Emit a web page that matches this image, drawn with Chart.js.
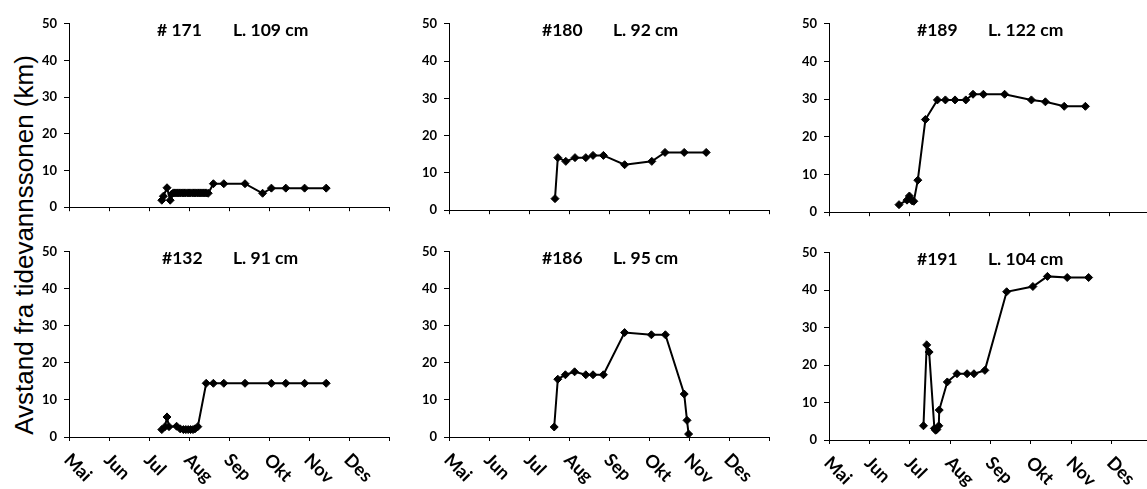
<!DOCTYPE html>
<html>
<head>
<meta charset="utf-8">
<script src="https://cdn.jsdelivr.net/npm/chart.js@4.4.1/dist/chart.umd.min.js"></script>
<style>
  html, body { margin: 0; padding: 0; background: #fff; width: 1147px; height: 489px; overflow: hidden; position: relative; }
  canvas { position: absolute; }
  #ytitle {
    position: absolute; left: 23.5px; top: 245px;
    transform: translate(-50%, -50%) rotate(-90deg);
    font: 26px "Liberation Sans", Arial, sans-serif;
    line-height: 1; white-space: nowrap; color: #000;
  }
</style>
</head>
<body>
<div id="ytitle">Avstand fra tidevannssonen (km)</div>
<script>
// Month axis: x values are months counted from 1 May (0 = 1 May, 1 = 1 Jun, ...)
const months = ['Mai', 'Jun', 'Jul', 'Aug', 'Sep', 'Okt', 'Nov', 'Des'];
const yTicks = [0, 10, 20, 30, 40, 50];

// Fish #171
const id171 = '# 171', len171 = 'L. 109 cm';
const t171 = [2.32, 2.36, 2.45, 2.53, 2.57, 2.61, 2.65, 2.70, 2.74, 2.78, 2.83, 2.87, 2.91, 2.96, 3.00,
              3.04, 3.09, 3.13, 3.17, 3.22, 3.26, 3.30, 3.35, 3.39, 3.43, 3.48, 3.61, 3.87, 4.40, 4.84,
              5.06, 5.42, 5.89, 6.43];
const km171 = [1.9, 3.0, 5.3, 1.9, 3.6, 3.9, 3.9, 3.9, 3.9, 3.9, 3.9, 3.9, 3.9, 3.9, 3.9,
               3.9, 3.9, 3.9, 3.9, 3.9, 3.9, 3.9, 3.9, 3.9, 3.9, 3.8, 6.4, 6.4, 6.4, 3.8,
               5.2, 5.2, 5.2, 5.2];

// Fish #180
const id180 = '#180', len180 = 'L. 92 cm';
const t180 = [2.65, 2.72, 2.92, 3.15, 3.42, 3.60, 3.86, 4.39, 5.07, 5.40, 5.88, 6.43];
const km180 = [3.1, 14.1, 13.1, 14.1, 14.1, 14.7, 14.7, 12.2, 13.1, 15.5, 15.5, 15.5];

// Fish #189
const id189 = '#189', len189 = 'L. 122 cm';
const t189 = [1.75, 1.95, 2.01, 2.08, 2.12, 2.22, 2.41, 2.71, 2.91, 3.15, 3.42, 3.60, 3.86, 4.39,
              5.06, 5.41, 5.88, 6.41];
const km189 = [2.0, 3.2, 4.3, 3.0, 2.9, 8.5, 24.6, 29.8, 29.8, 29.8, 29.8, 31.3, 31.3, 31.3,
               29.8, 29.3, 28.1, 28.1];

// Fish #132
const id132 = '#132', len132 = 'L. 91 cm';
const t132 = [2.32, 2.40, 2.45, 2.50, 2.69, 2.78, 2.86, 2.92, 2.98, 3.04, 3.10, 3.15, 3.22, 3.43,
              3.61, 3.87, 4.40, 5.06, 5.42, 5.89, 6.43];
const km132 = [2.0, 2.8, 5.4, 2.8, 2.9, 2.2, 2.0, 2.0, 2.0, 2.0, 2.0, 2.2, 2.8, 14.5,
               14.5, 14.5, 14.5, 14.5, 14.5, 14.5, 14.5];

// Fish #186
const id186 = '#186', len186 = 'L. 95 cm';
const t186 = [2.63, 2.72, 2.91, 3.14, 3.42, 3.60, 3.86, 4.39, 5.06, 5.41, 5.88, 5.95, 5.99];
const km186 = [2.7, 15.6, 16.8, 17.6, 16.8, 16.8, 16.8, 28.2, 27.6, 27.6, 11.6, 4.5, 0.8];

// Fish #191
const id191 = '#191', len191 = 'L. 104 cm';
const t191 = [2.34, 2.42, 2.48, 2.61, 2.64, 2.67, 2.72, 2.73, 2.93, 3.17, 3.42, 3.59, 3.86, 4.40,
              5.05, 5.41, 5.90, 6.43];
const km191 = [3.8, 25.4, 23.5, 3.1, 2.6, 2.8, 3.8, 8.0, 15.5, 17.7, 17.7, 17.7, 18.6, 39.6,
               41.0, 43.7, 43.4, 43.4];

// Panel layout (pixel frame of each plot area)
const panels = [
  { id: id171, len: len171, t: t171, km: km171, x0: 69,  top: 21,  bottom: 214, month: 40.6, labels: false, idX: 88, lenX: 164 },
  { id: id180, len: len180, t: t180, km: km180, x0: 449, top: 21,  bottom: 217, month: 40.6, labels: false, idX: 93, lenX: 164 },
  { id: id189, len: len189, t: t189, km: km189, x0: 829, top: 21,  bottom: 219, month: 40.6, labels: false, idX: 88, lenX: 159 },
  { id: id132, len: len132, t: t132, km: km132, x0: 69,  top: 249, bottom: 437, month: 40.6, labels: true,  idX: 93, lenX: 164 },
  { id: id186, len: len186, t: t186, km: km186, x0: 449, top: 249, bottom: 437, month: 40.6, labels: true,  idX: 93, lenX: 164 },
  { id: id191, len: len191, t: t191, km: km191, x0: 829, top: 250, bottom: 440, month: 41.0, labels: true,  idX: 88, lenX: 159 }
];

const FONT = 'Lato, "Open Sans", sans-serif';
const PAD_TOP = 12, Y_W = 60;

// Panel heading drawn inside the plot area
const headingPlugin = {
  id: 'heading',
  afterDraw(chart, args, opts) {
    const { ctx, chartArea } = chart;
    ctx.save();
    ctx.fillStyle = '#000';
    ctx.font = 'bold 17.5px ' + FONT;
    ctx.textAlign = 'left';
    ctx.textBaseline = 'middle';
    ctx.fillText(opts.id, chartArea.left + opts.idX, chartArea.top + 7);
    ctx.fillText(opts.len, chartArea.left + opts.lenX, chartArea.top + 7);
    ctx.restore();
  }
};

// Month names slanted downwards, starting at each month's tick
const monthLabelPlugin = {
  id: 'monthLabels',
  afterDraw(chart, args, opts) {
    if (!opts.show) return;
    const { ctx, chartArea } = chart;
    const xs = chart.scales.x;
    ctx.save();
    ctx.fillStyle = '#000';
    ctx.font = 'bold 18px ' + FONT;
    ctx.textAlign = 'left';
    ctx.textBaseline = 'alphabetic';
    months.forEach((m, i) => {
      const px = xs.getPixelForValue(i);
      ctx.save();
      ctx.translate(px - 6, chartArea.bottom + 24);
      ctx.rotate(Math.PI / 4);
      ctx.fillText(m, 0, 0);
      ctx.restore();
    });
    ctx.restore();
  }
};

panels.forEach(p => {
  const plotW = Math.round(p.month * months.length);
  const plotH = p.bottom - p.top;
  const bottomExtra = p.labels ? 52 : 8;
  const cv = document.createElement('canvas');
  const w = Y_W + plotW, h = PAD_TOP + plotH + bottomExtra;
  cv.width = w; cv.height = h;
  cv.style.width = w + 'px'; cv.style.height = h + 'px';
  cv.style.left = (p.x0 - Y_W) + 'px';
  cv.style.top = (p.top - PAD_TOP) + 'px';
  document.body.appendChild(cv);

  new Chart(cv, {
    type: 'line',
    data: {
      datasets: [{
        data: p.t.map((x, i) => ({ x: x, y: p.km[i] })),
        borderColor: '#000',
        backgroundColor: '#000',
        borderWidth: 2,
        pointStyle: 'rectRot',
        pointRadius: 4,
        pointBorderWidth: 1,
        pointBackgroundColor: '#000',
        pointBorderColor: '#000',
        tension: 0,
        fill: false
      }]
    },
    options: {
      responsive: false,
      animation: false,
      devicePixelRatio: 1,
      layout: { padding: { top: PAD_TOP, left: 0, right: 0, bottom: 0 } },
      plugins: {
        legend: { display: false },
        tooltip: { enabled: false },
        heading: { id: p.id, len: p.len, idX: p.idX, lenX: p.lenX },
        monthLabels: { show: p.labels }
      },
      scales: {
        x: {
          type: 'linear',
          min: 0,
          max: months.length,
          afterBuildTicks: s => { s.ticks = months.map((m, i) => ({ value: i })).concat([{ value: months.length }]); },
          afterFit: s => { s.height = bottomExtra; },
          ticks: { display: false },
          grid: { drawOnChartArea: false, drawTicks: true, tickLength: 4, color: '#000', lineWidth: 1 },
          border: { display: true, color: '#000', width: 1 }
        },
        y: {
          min: 0,
          max: 50,
          afterBuildTicks: s => { s.ticks = yTicks.map(v => ({ value: v })); },
          afterFit: s => { s.width = Y_W; },
          ticks: { color: '#000', font: { family: FONT, size: 13, weight: 'bold' }, padding: 7 },
          grid: { drawOnChartArea: false, drawTicks: true, tickLength: 5, color: '#000', lineWidth: 1 },
          border: { display: true, color: '#000', width: 1 }
        }
      }
    },
    plugins: [headingPlugin, monthLabelPlugin]
  });
});
</script>
</body>
</html>
